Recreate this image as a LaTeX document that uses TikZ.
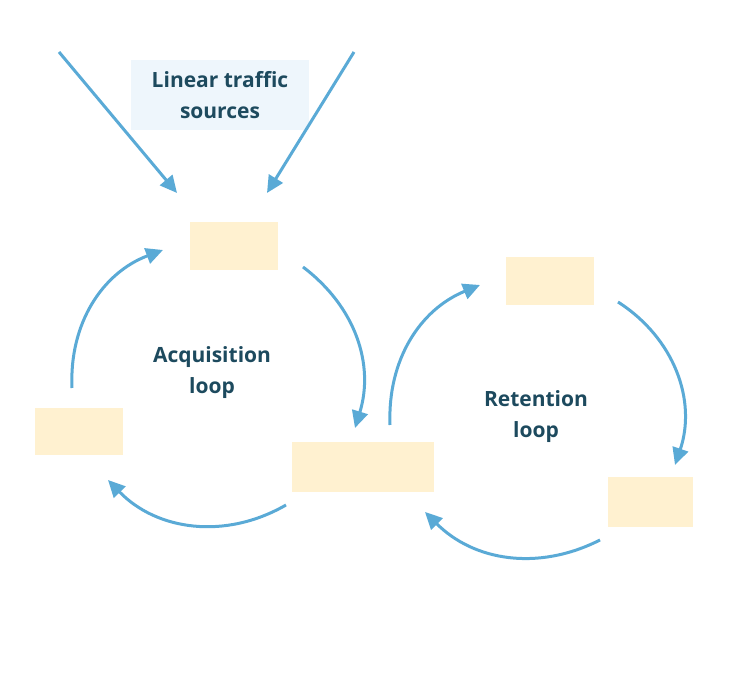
\documentclass[tikz,border=0pt]{standalone}
\usepackage{fontspec}
\setmainfont{Open Sans}
\usetikzlibrary{arrows.meta}
\definecolor{ln}{HTML}{5AAAD6}
\definecolor{bx}{HTML}{FFF1D0}
\definecolor{lb}{HTML}{EEF6FC}
\definecolor{tx}{HTML}{1D4A5E}
\begin{document}
\begin{tikzpicture}[x=1pt,y=1pt,
  box/.style={fill=bx,draw=none,inner sep=0},
  lab/.style={text=tx,font=\fontsize{21}{31}\selectfont\bfseries,align=center},
  arr/.style={draw=ln,line width=3pt,-{Triangle[length=17pt,width=16pt]}}]
\useasboundingbox (0,0) rectangle (753,685);
\node[box,minimum width=88,minimum height=48] (top) at (234,439) {};
\node[box,minimum width=88,minimum height=47] (left) at (79,253.5) {};
\node[box,minimum width=142,minimum height=50] (mid) at (363,218) {};
\node[box,minimum width=88,minimum height=48] (rt) at (550,404) {};
\node[box,minimum width=85,minimum height=50] (rb) at (650.5,183) {};
\node[fill=lb,minimum width=178,minimum height=70,lab] (src) at (220,590) {Linear traffic\\sources};
\node[lab] (acq) at (212,312) {Acquisition\\loop};
\node[lab] (ret) at (536,268) {Retention\\loop};
\coordinate (l1s) at (59,633); \coordinate (l1e) at (177,492);
\coordinate (l2s) at (354,633); \coordinate (l2e) at (267,492);
\draw[arr] (l1s) -- (l1e);
\draw[arr] (l2s) -- (l2e);
\coordinate (a1s) at (303,418); \coordinate (a1e) at (355,257);
\coordinate (a2s) at (286,180); \coordinate (a2e) at (108,205);
\coordinate (a3s) at (72,297); \coordinate (a3e) at (163,435);
\coordinate (r1s) at (390,260); \coordinate (r1e) at (480,400);
\coordinate (r2s) at (618,383); \coordinate (r2e) at (675,220);
\coordinate (r3s) at (600,145); \coordinate (r3e) at (425,173);
\draw[arr] (a1s) to[bend left=35] (a1e);
\draw[arr] (a2s) to[bend left=38] (a2e);
\draw[arr] (a3s) to[bend left=36] (a3e);
\draw[arr] (r1s) to[bend left=35] (r1e);
\draw[arr] (r2s) to[bend left=38] (r2e);
\draw[arr] (r3s) to[bend left=36] (r3e);
\end{tikzpicture}
\end{document}
